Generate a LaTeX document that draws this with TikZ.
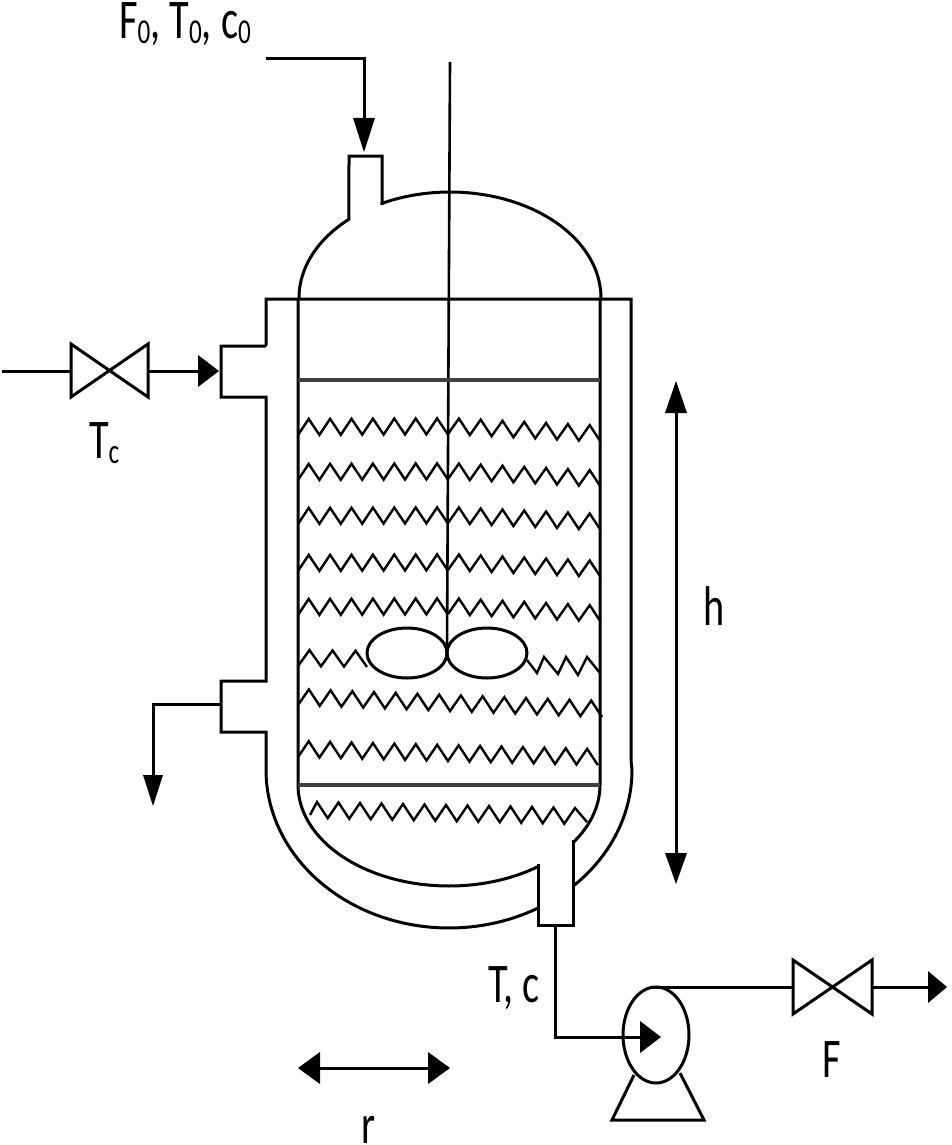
\documentclass[tikz,border=0pt]{standalone}
\usepackage{fontspec}
\usepackage{graphicx}
\setmainfont{Carlito}
\newcommand{\zigrow}[6]{\draw[coil] plot[variable=\k,samples at={0,...,#5}] ({#1+\k*#3},{#2+\k*#4-mod(\k,2)*#6});}
\newcommand{\lbl}[1]{\raisebox{0pt}[32pt][8pt]{\scalebox{.72}[1]{\fontsize{56}{56}\selectfont #1}}}
\newcommand{\subz}[1]{\raisebox{-5pt}{\fontsize{35}{35}\selectfont #1}}
\tikzset{
  x=1pt,y=-1pt,
  pipe/.style={draw=black,line width=3pt,line cap=butt,line join=miter},
  wall/.style={draw=black,line width=3pt,line join=miter},
  coil/.style={draw=black,line width=2.4pt,line join=miter},
  level/.style={draw=black!75,line width=4pt},
  head/.style={fill=black,draw=none},
  tag/.style={inner sep=0pt,outer sep=0pt,anchor=base west}
}
\begin{document}
\begin{tikzpicture}
\useasboundingbox (0,0) rectangle (951,1145);
\fill[white] (0,0) rectangle (951,1145);

% named points
\coordinate (feedStart) at (266,59);
\coordinate (feedCorner) at (364,59);
\coordinate (feedTip) at (364,152);
\coordinate (coolIn) at (2,371);
\coordinate (valveAL) at (71,371);
\coordinate (valveAR) at (148,371);
\coordinate (coolTip) at (219,371);
\coordinate (outNoz) at (221,704);
\coordinate (outCorner) at (153,704);
\coordinate (outTip) at (153,806);
\coordinate (botNoz) at (555,925);
\coordinate (botCorner) at (555,1037);
\coordinate (pumpTip) at (661,1037);
\coordinate (pumpTop) at (653,987);
\coordinate (valveBL) at (793,987);
\coordinate (valveBR) at (872,987);
\coordinate (prodTip) at (947,987);

% dome and feed nozzle
\draw[wall] plot[variable=\t,domain=180:132,samples=30] ({450+151*cos(\t)},{298-106*sin(\t)})
  -- (349,156) -- (382,156) -- (382,205)
  -- plot[variable=\t,domain=116.8:0,samples=50] ({450+151*cos(\t)},{298-106*sin(\t)});

% shaft
\draw[pipe,line width=2.6pt] (450,62) -- (447,650);

% jacket
\draw[wall] (266,346) -- (266,299) -- (631,299) -- (631,760)
  -- plot[variable=\t,domain=0:-47.3,samples=30] ({449+183*cos(\t)},{770-158*sin(\t)});
\draw[wall] (266,346) -- (221,346) -- (221,397) -- (266,397) -- (266,681) -- (221,681) -- (221,732) -- (266,732) -- (266,770)
  -- plot[variable=\t,domain=180:299,samples=60] ({449+183*cos(\t)},{770-158*sin(\t)});

% vessel
\draw[wall] (298,298) -- (298,785)
  -- plot[variable=\t,domain=180:306,samples=60] ({449+151*cos(\t)},{785-101*sin(\t)});
\draw[wall] (600,298) -- (600,785)
  -- plot[variable=\t,domain=0:-35,samples=30] ({449+151*cos(\t)},{785-101*sin(\t)});
\draw[wall] (538,864) -- (538,925) -- (573,925) -- (573,840);

% liquid levels
\draw[level] (298,380) -- (600,380);
\draw[level] (298,785) -- (600,785);

% coils
\zigrow{298}{435}{10.7}{-0.05}{14}{16}
\zigrow{448}{434}{10.9}{0.55}{14}{16}
\zigrow{298}{480}{10.7}{-0.05}{14}{16}
\zigrow{448}{479}{10.9}{0.55}{14}{16}
\zigrow{298}{524}{10.7}{-0.05}{14}{16}
\zigrow{448}{523}{10.9}{0.50}{14}{16}
\zigrow{298}{571}{10.7}{-0.05}{14}{16}
\zigrow{448}{570}{10.9}{0.50}{14}{16}
\zigrow{298}{615}{10.7}{-0.05}{14}{16}
\zigrow{448}{614}{10.9}{0.55}{14}{16}
\zigrow{298}{666}{11.5}{0.15}{6}{16}
\draw[coil] (527,660) -- (537,673) -- (544,657) -- (558,674) -- (566,657) -- (578,675) -- (587,657) -- (600,673);
\zigrow{298}{705}{10.86}{0.43}{28}{16}
\zigrow{298}{757}{10.71}{0.29}{28}{16}
\draw[coil] (310,815) -- plot[variable=\k,samples at={0,...,24}] ({317+\k*10.75},{802+\k*0.25+mod(\k,2)*16}) -- (587,822);

% impeller
\draw[wall] (407,653) ellipse [x radius=40,y radius=25];
\draw[wall] (487,653) ellipse [x radius=40,y radius=25];

% feed
\draw[pipe] (feedStart) -- (feedCorner) -- (364,120);
\fill[head] (353,118) -- (375,118) -- (feedTip) -- cycle;
\node[tag] (feedlabel) at (119,39) {\lbl{F\subz{0}, T\subz{0}, c\subz{0}}};

% coolant in
\draw[pipe] (coolIn) -- (valveAL);
\draw[wall] (71,344) -- (148,397) -- (148,344) -- (71,397) -- cycle;
\draw[pipe] (valveAR) -- (200,371);
\fill[head] (198,355) -- (198,387) -- (coolTip) -- cycle;
\node[tag] (tclabel) at (89,458) {\lbl{T\subz{c}}};

% coolant out
\draw[pipe] (outNoz) -- (outCorner) -- (153,778);
\fill[head] (143,775) -- (163,775) -- (outTip) -- cycle;

% product line and pump
\draw[pipe] (botNoz) -- (botCorner) -- (642,1037);
\fill[head] (640,1021) -- (640,1053) -- (pumpTip) -- cycle;
\draw[wall] (656,1035) ellipse [x radius=33,y radius=48];
\draw[wall] (634,1075) -- (612,1120) -- (704,1120) -- (680,1073);
\draw[pipe] (pumpTop) -- (valveBL);
\draw[wall] (793,960) -- (872,1014) -- (872,960) -- (793,1014) -- cycle;
\draw[pipe] (valveBR) -- (930,987);
\fill[head] (928,971) -- (928,1003) -- (prodTip) -- cycle;
\node[tag] (Flabel) at (822,1077) {\lbl{F}};
\node[tag] (Tclabel) at (488,1002) {\lbl{T, c}};

% height arrow
\draw[pipe] (676,410) -- (676,856);
\fill[head] (665,413) -- (687,413) -- (676,381) -- cycle;
\fill[head] (665,853) -- (687,853) -- (676,884) -- cycle;
\node[tag] (hlabel) at (703,625) {\lbl{h}};

% radius arrow
\draw[pipe] (318,1068) -- (430,1068);
\fill[head] (320,1052) -- (320,1084) -- (298,1068) -- cycle;
\fill[head] (428,1052) -- (428,1084) -- (450,1068) -- cycle;
\node[tag] (rlabel) at (361,1143) {\lbl{r}};
\end{tikzpicture}
\end{document}
